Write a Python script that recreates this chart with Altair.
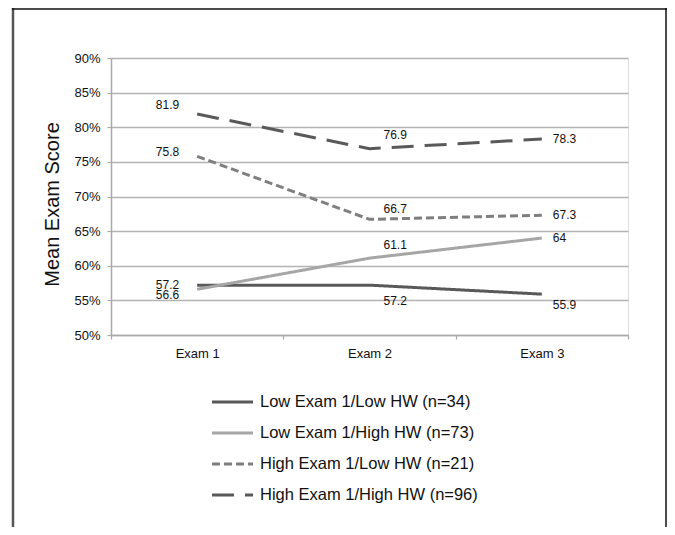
import altair as alt
import pandas as pd

# ---- data ----
exams = ["Exam 1", "Exam 2", "Exam 3"]
series = ["Low Exam 1/Low HW", "Low Exam 1/High HW", "High Exam 1/Low HW", "High Exam 1/High HW"]
group_n = [34, 73, 21, 96]
low_low = [57.2, 57.2, 55.9]
low_high = [56.6, 61.1, 64.0]
high_low = [75.8, 66.7, 67.3]
high_high = [81.9, 76.9, 78.3]
y_ticks = [50, 55, 60, 65, 70, 75, 80, 85, 90]

values = [low_low, low_high, high_low, high_high]

# ---- styling ----
FONT = "Liberation Sans"
colors = ["#595959", "#a6a6a6", "#7f7f7f", "#595959"]
dashes = [[1, 0], [1, 0], [8, 4], [22, 11]]
W, H = 517, 277

# label nudges (pixels) per exam / series, mimicking the reference placement
label_dx = {"Exam 1": -18, "Exam 2": 14, "Exam 3": 11}
label_dy = {
    "Exam 1": [0, 6, -4, -9],
    "Exam 2": [16, -13, -10, -14],
    "Exam 3": [11, 0, 0, 0],
}

rows = []
for si, s in enumerate(series):
    for ei, e in enumerate(exams):
        rows.append({
            "series": s,
            "exam": e,
            "score": values[si][ei],
            "label": f"{values[si][ei]:g}",
            "ndx": label_dx[e],
            "ndy": label_dy[e][si],
        })
df = pd.DataFrame(rows)

legend_df = pd.DataFrame({
    "series": series,
    "text": [f"{s} (n={n})" for s, n in zip(series, group_n)],
})

color_scale = alt.Scale(domain=series, range=colors)
dash_scale = alt.Scale(domain=series, range=dashes)
y_scale = alt.Scale(domain=[50, 90], nice=False, zero=False)
x_scale = alt.Scale(type="band", domain=exams, paddingInner=0, paddingOuter=0)

x_axis = alt.Axis(title=None, tickBand="extent", labelAngle=0,
                  labelFontSize=13, labelFont=FONT, labelColor="#111111",
                  tickSize=4, labelPadding=8, domainColor="#a9a9a9",
                  tickColor="#a9a9a9", domainWidth=1.5, tickWidth=1.2,
                  grid=False)
x_enc = alt.X("exam:N", scale=x_scale, sort=exams, bandPosition=0.5, axis=x_axis)

lines = alt.Chart(df).mark_line(strokeWidth=3).encode(
    x=x_enc,
    y=alt.Y("score:Q", scale=y_scale,
            axis=alt.Axis(values=y_ticks, labelExpr="datum.value + '%'",
                          title="Mean Exam Score", titleFontSize=20, titleFont=FONT,
                          titleFontWeight="normal", titleColor="#111111",
                          titleX=-59, titleY=146, titleAngle=-90, titleAlign="center",
                          titleBaseline="middle",
                          labelFontSize=13, labelFont=FONT, labelColor="#111111",
                          tickSize=4, labelPadding=7, domainColor="#a9a9a9",
                          tickColor="#a9a9a9", domainWidth=1.5, tickWidth=1.2,
                          grid=True, gridColor="#b3b3b3", gridWidth=1.4)),
    color=alt.Color("series:N", scale=color_scale, legend=None),
    strokeDash=alt.StrokeDash("series:N", scale=dash_scale, legend=None),
    detail="series:N",
)

def label_layer(align, exam_filter):
    return alt.Chart(df).transform_filter(exam_filter).mark_text(
        align=align, baseline="middle", fontSize=12, font=FONT, color="#111111",
        dx=alt.expr("datum.ndx"), dy=alt.expr("datum.ndy"),
    ).encode(
        x=alt.X("exam:N", scale=x_scale, sort=exams, bandPosition=0.5, axis=x_axis),
        y=alt.Y("score:Q", scale=y_scale, axis=None),
        text="label:N",
    )

labels_left = label_layer("right", alt.datum.exam == "Exam 1")
labels_right = label_layer("left", alt.datum.exam != "Exam 1")

# custom legend below the plot
leg_y = alt.Y("series:N", sort=series, axis=None,
              scale=alt.Scale(type="point", domain=series, range=[344, 437], padding=0))
legend_lines = alt.Chart(legend_df).mark_rule(strokeWidth=3).encode(
    x=alt.value(101), x2=alt.value(142),
    y=leg_y,
    color=alt.Color("series:N", scale=color_scale, legend=None),
    strokeDash=alt.StrokeDash("series:N", scale=dash_scale, legend=None),
)
legend_text = alt.Chart(legend_df).mark_text(
    align="left", baseline="middle", fontSize=16.5, font=FONT, color="#111111"
).encode(
    x=alt.value(149),
    y=leg_y,
    text="text:N",
)

# outer frame of the figure
frame_df = pd.DataFrame({"k": [0]})
frame_left = alt.Chart(frame_df).mark_rule(color="#555555", strokeWidth=2.5).encode(
    x=alt.value(-98), y=alt.value(-50), y2=alt.value(470))
frame_top = alt.Chart(frame_df).mark_rule(color="#111111", strokeWidth=1.5).encode(
    x=alt.value(-99), x2=alt.value(556), y=alt.value(-49))
frame_right = alt.Chart(frame_df).mark_rule(color="#111111", strokeWidth=1.5).encode(
    x=alt.value(555), y=alt.value(-50), y2=alt.value(470))

chart = alt.layer(
    lines, labels_left, labels_right, legend_lines, legend_text,
    frame_left, frame_top, frame_right,
).resolve_scale(y="independent").properties(
    width=W, height=H,
    autosize=alt.AutoSizeParams(type="none"),
    padding={"left": 103, "top": 50, "right": 39, "bottom": 192},
).configure_view(stroke=None).configure(background="white")

chart.save("out.html", embed_options={"renderer": "svg", "actions": False})
